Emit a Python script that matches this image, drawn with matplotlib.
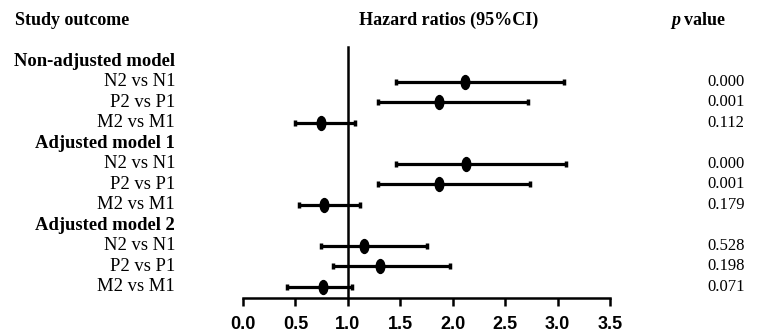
import matplotlib
matplotlib.use("Agg")
import matplotlib.pyplot as plt
import matplotlib.transforms as mtransforms
from matplotlib.path import Path

# data
groups = ["Non-adjusted model", "Adjusted model 1", "Adjusted model 2"]
comparisons = ["N2 vs N1", "P2 vs P1", "M2 vs M1"]
hr = [2.12, 1.87, 0.74, 2.13, 1.87, 0.77, 1.15, 1.31, 0.76]
lower = [1.46, 1.29, 0.50, 1.46, 1.29, 0.53, 0.74, 0.86, 0.42]
upper = [3.06, 2.72, 1.07, 3.08, 2.74, 1.12, 1.75, 1.97, 1.04]
pvals = ["0.000", "0.001", "0.112", "0.000", "0.001", "0.179", "0.528", "0.198", "0.071"]
xticks = [0.0, 0.5, 1.0, 1.5, 2.0, 2.5, 3.0, 3.5]

W, H = 759, 335
fig = plt.figure(figsize=(W / 100, H / 100), dpi=100)
fig.patch.set_facecolor("white")

# axes: x from 0 at px 243 to 3.5 at px 610; bottom at px 298, top at figure top
ax = fig.add_axes([243 / W, 1 - 298 / H, (610 - 243) / W, 298 / H])
ax.set_xlim(0, 3.5)
ax.set_ylim(11.56, -2.98)

# row positions: header, then three comparisons, per group
rows = []
headers = []
r = 0
for g in groups:
    headers.append(r)
    r += 1
    for c in comparisons:
        rows.append(r)
        r += 1

ell = Path.unit_circle().transformed(mtransforms.Affine2D().scale(0.62, 1.0))
serif = "Liberation Serif"

ax.axvline(1.0, ymin=0, ymax=(11.56 - (-0.68)) / (11.56 + 2.98), color="black", lw=1.8)
for y, m, lo, hi in zip(rows, hr, lower, upper):
    ax.errorbar(m, y, xerr=[[m - lo], [hi - m]], fmt="none", ecolor="black",
                elinewidth=2.3, capsize=2.5, capthick=2.5)
    ax.plot(m, y, marker=ell, markersize=10, color="black")

for s in ["top", "right", "left"]:
    ax.spines[s].set_visible(False)
ax.spines["bottom"].set_linewidth(1.8)
ax.set_yticks([])
ax.set_xticks(xticks)
ax.set_xticklabels([f"{t:.1f}" for t in xticks], fontfamily="Liberation Sans",
                   fontweight="bold", fontsize=13)
ax.tick_params(axis="x", direction="out", length=6, width=1.8, pad=7)

tr = mtransforms.blended_transform_factory(fig.transFigure, ax.transData)

# column headers
ax.text(15 / W, -2, "Study outcome", transform=tr, ha="left", va="center",
        fontfamily=serif, fontweight="bold", fontsize=13)
ax.text(449 / W, -2, "Hazard ratios (95%CI)", transform=tr, ha="center", va="center",
        fontfamily=serif, fontweight="bold", fontsize=13)
ax.text(671 / W, -2, "p", transform=tr, ha="left", va="center",
        fontfamily=serif, fontweight="bold", fontstyle="italic", fontsize=13)
ax.text(684 / W, -2, "value", transform=tr, ha="left", va="center",
        fontfamily=serif, fontweight="bold", fontsize=13)

for y, g in zip(headers, groups):
    ax.text(175 / W, y, g, transform=tr, ha="right", va="center",
            fontfamily=serif, fontweight="bold", fontsize=13.4)
for i, y in enumerate(rows):
    ax.text(175 / W, y, comparisons[i % 3], transform=tr, ha="right", va="center",
            fontfamily=serif, fontsize=13.4)
    ax.text(707 / W, y, pvals[i], transform=tr, ha="left", va="center",
            fontfamily=serif, fontsize=12)

fig.savefig("out.png", dpi=100, facecolor="white")
